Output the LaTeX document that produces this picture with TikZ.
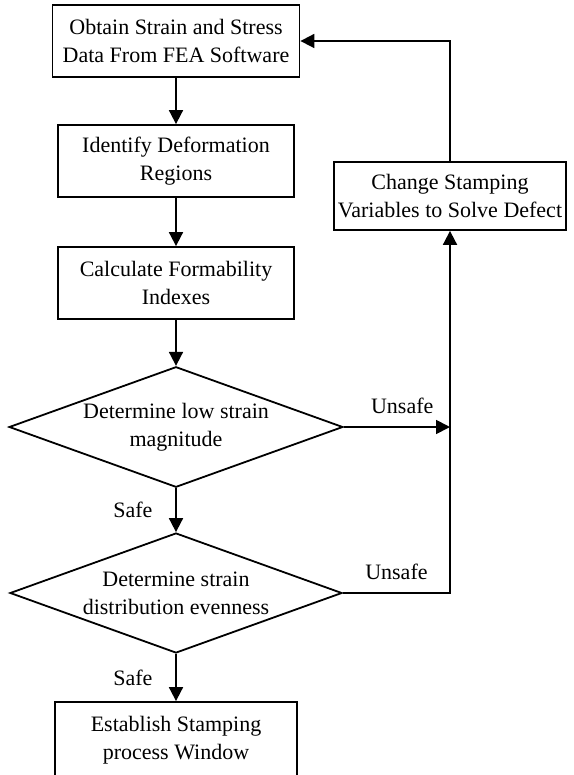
\documentclass[tikz,border=0pt]{standalone}
\usepackage{fontspec}
\setmainfont{Liberation Serif}
\usetikzlibrary{shapes.geometric,arrows.meta}

\tikzset{
  stage/.style={draw,line width=0.9pt,align=center,minimum width=118pt,minimum height=36pt,inner sep=2pt},
  check/.style={draw,diamond,line width=0.9pt,align=center,aspect=2.77,minimum width=166pt,minimum height=60pt,inner sep=1pt},
  flow/.style={line width=0.9pt,-{Triangle[length=7pt,width=7pt]}},
}

\begin{document}
\begin{tikzpicture}[x=0.5pt,y=-0.5pt,font=\fontsize{11}{14}\selectfont]
        \useasboundingbox (0,0) rectangle (573,775);
        % main column
        \node[stage,minimum width=123.5pt] (obtain) at (176,41) {Obtain Strain and Stress\\Data From FEA Software};
        \node[stage] (identify) at (176,161) {Identify Deformation\\Regions};
        \node[stage] (calc) at (176,283) {Calculate Formability\\Indexes};
        \node[check] (lowstrain) at (176,427) {Determine low strain\\magnitude};
        \node[check] (evenness) at (176,593) {Determine strain\\distribution evenness};
        \node[stage,minimum width=121pt,minimum height=38pt] (window) at (176,740) {Establish Stamping\\process Window};
        % feedback branch
        \node[stage,minimum width=105pt,minimum height=34pt] (change) at (450,196) {Change Stamping\\Variables to Solve Defect};
        \coordinate (join) at (450,427);
        \draw[flow] (obtain) -- (identify);
        \draw[flow] (identify) -- (calc);
        \draw[flow] (calc) -- (lowstrain);
        \draw[flow] (lowstrain) -- node[left=8pt]{Safe} (evenness);
        \draw[flow] (evenness) -- node[left=8pt]{Safe} (window);
        \draw[flow] (lowstrain.east) -- node[above=3pt,pos=0.55]{Unsafe} (join);
        \draw[flow] (evenness.east) -| node[above=3pt,pos=0.25]{Unsafe} (change.south);
        \draw[flow] (change.north) |- (obtain.east);
    \end{tikzpicture}
\end{document}
